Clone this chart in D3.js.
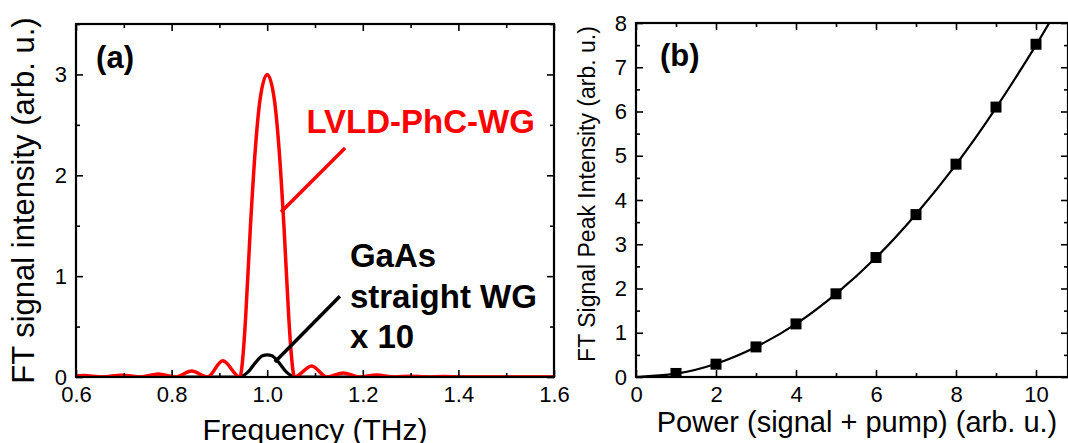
<!DOCTYPE html>
<html>
<head>
<meta charset="utf-8">
<script src="https://cdn.jsdelivr.net/npm/d3@7"></script>
<style>
    body { margin: 0; background: #fff; }
    svg { display: block; font-family: 'Liberation Sans', Arial, sans-serif; }
</style>
</head>
<body>
<div id="draw"></div>
<script>
// (a) FT spectra
let red_freq = [0.600, 0.615, 0.655, 0.696, 0.735, 0.772, 0.808, 0.842, 0.875, 0.907, 0.943,
    0.950, 0.955, 0.965, 0.975, 0.985, 1.000, 1.015, 1.025, 1.035, 1.045, 1.050, 1.057,
    1.093, 1.125, 1.159, 1.193, 1.229, 1.265, 1.300, 1.335, 1.370, 1.405, 1.600];
let red_val = [0.010, 0.014, 0.000, 0.018, 0.000, 0.030, 0.000, 0.060, 0.000, 0.160, 0.000,
    0.250, 0.600, 1.500, 2.250, 2.750, 3.000, 2.750, 2.250, 1.500, 0.600, 0.250, 0.000,
    0.110, 0.000, 0.040, 0.000, 0.020, 0.000, 0.008, 0.000, 0.004, 0.000, 0.000];
let black_freq = [0.600, 0.930, 0.945, 0.960, 0.975, 0.990, 1.000, 1.010, 1.025, 1.040, 1.055, 1.070, 1.600];
let black_val = [0.000, 0.000, 0.005, 0.050, 0.140, 0.210, 0.220, 0.210, 0.140, 0.050, 0.005, 0.000, 0.000];

// (b) FT peak intensity vs power
let power = [1, 2, 3, 4, 5, 6, 7, 8, 9, 10];
let peak = [0.08, 0.29, 0.68, 1.20, 1.88, 2.70, 3.67, 4.81, 6.10, 7.52];
let fit_power = [0, 1, 2, 3, 4, 5, 6, 7, 8, 9, 10, 10.5];
let fit_peak = [0, 0.075, 0.30, 0.68, 1.20, 1.88, 2.70, 3.68, 4.80, 6.08, 7.50, 8.27];

// ticks
let a_xticks = [0.6, 0.8, 1.0, 1.2, 1.4, 1.6];
let a_xminor = [0.7, 0.9, 1.1, 1.3, 1.5];
let a_yticks = [0, 1, 2, 3];
let a_yminor = [0.5, 1.5, 2.5, 3.5];
let b_xticks = [0, 2, 4, 6, 8, 10];
let b_xminor = [1, 3, 5, 7, 9];
let b_yticks = [0, 1, 2, 3, 4, 5, 6, 7, 8];
let b_yminor = [0.5, 1.5, 2.5, 3.5, 4.5, 5.5, 6.5, 7.5];

// parameters
let width = 1068, height = 443;
let pa = { left: 76, right: 554, top: 24, bottom: 377 };
let pb = { left: 636, right: 1068, top: 23, bottom: 377 };
let tick_font = 22;

let svg = d3.select('#draw').append('svg').attr('width', width).attr('height', height);

let xa = d3.scaleLinear().domain([0.6, 1.6]).range([pa.left, pa.right]);
let ya = d3.scaleLinear().domain([0, 3.5]).range([pa.bottom, pa.top]);
let xb = d3.scaleLinear().domain([0, 10.8]).range([pb.left, pb.right]);
let yb = d3.scaleLinear().domain([0, 8]).range([pb.bottom, pb.top]);

function frame(id, p, x, y, xt, xm, yt, ym, xfmt) {
    let g = svg.append('g');
    // clip path for the data
    svg.append('clipPath').attr('id', id)
        .append('rect')
        .attr('x', p.left).attr('y', p.top)
        .attr('width', p.right - p.left).attr('height', p.bottom - p.top);

    let axes = [
        [d3.axisBottom(x).tickValues(xt).tickFormat(xfmt), 'translate(0,' + p.bottom + ')', true],
        [d3.axisBottom(x).tickValues(xm).tickFormat(''), 'translate(0,' + p.bottom + ')', false],
        [d3.axisTop(x).tickValues(xt).tickFormat(''), 'translate(0,' + p.top + ')', true],
        [d3.axisTop(x).tickValues(xm).tickFormat(''), 'translate(0,' + p.top + ')', false],
        [d3.axisLeft(y).tickValues(yt).tickFormat(d3.format('d')), 'translate(' + p.left + ',0)', true],
        [d3.axisLeft(y).tickValues(ym).tickFormat(''), 'translate(' + p.left + ',0)', false],
        [d3.axisRight(y).tickValues(yt).tickFormat(''), 'translate(' + p.right + ',0)', true],
        [d3.axisRight(y).tickValues(ym).tickFormat(''), 'translate(' + p.right + ',0)', false]
    ];
    axes.forEach(a => {
        let ax = g.append('g').attr('transform', a[1])
            .call(a[0].tickSize(a[2] ? -7 : -4).tickPadding(9));
        ax.select('.domain').remove();
        ax.selectAll('line').attr('stroke', '#000').attr('stroke-width', 1.6);
        ax.selectAll('text').attr('font-size', tick_font).attr('fill', '#000')
            .attr('font-family', "'Liberation Sans', Arial, sans-serif");
    });
    return g;
}

// ---- panel (a)
let ga = svg.append('g');
let line_a = d3.line().curve(d3.curveMonotoneX);

ga.append('g').attr('clip-path', 'url(#clipa)')
    .append('path')
    .attr('d', line_a(black_freq.map((f, i) => [xa(f), ya(black_val[i])])))
    .attr('fill', 'none').attr('stroke', '#000').attr('stroke-width', 3.2);

ga.append('g').attr('clip-path', 'url(#clipa)')
    .append('path')
    .attr('d', line_a(red_freq.map((f, i) => [xa(f), ya(red_val[i])])))
    .attr('fill', 'none').attr('stroke', '#f00').attr('stroke-width', 3.5);

frame('clipa', pa, xa, ya, a_xticks, a_xminor, a_yticks, a_yminor, d3.format('.1f'));
svg.append('rect')
    .attr('x', pa.left).attr('y', pa.top)
    .attr('width', pa.right - pa.left).attr('height', pa.bottom - pa.top)
    .attr('fill', 'none').attr('stroke', '#000').attr('stroke-width', 2.2);

// leader lines + labels
ga.append('line')
    .attr('x1', xa(1.163)).attr('y1', ya(2.27)).attr('x2', xa(1.029)).attr('y2', ya(1.635))
    .attr('stroke', '#f00').attr('stroke-width', 3.5);
ga.append('line')
    .attr('x1', xa(1.152)).attr('y1', ya(0.80)).attr('x2', xa(1.016)).attr('y2', ya(0.149))
    .attr('stroke', '#000').attr('stroke-width', 3.5);

ga.append('text').text('LVLD-PhC-WG')
    .attr('x', xa(1.082)).attr('y', ya(2.42))
    .attr('font-size', 33).attr('font-weight', 'bold').attr('fill', '#f00');

ga.append('text')
    .attr('font-size', 33).attr('font-weight', 'bold').attr('fill', '#000')
    .selectAll('tspan')
    .data(['GaAs', 'straight WG', 'x 10'])
    .enter()
    .append('tspan')
    .attr('x', xa(1.173))
    .attr('y', (d, i) => ya(1.09) + i * 40.5)
    .text(d => d);

ga.append('text').text('(a)')
    .attr('x', xa(0.642)).attr('y', ya(3.06))
    .attr('font-size', 31).attr('font-weight', 'bold');

ga.append('text').text('Frequency (THz)')
    .attr('x', (pa.left + pa.right) / 2).attr('y', 440)
    .attr('text-anchor', 'middle').attr('font-size', 30).attr('fill', '#000');

ga.append('text').text('FT signal intensity (arb. u.)')
    .attr('transform', 'translate(34,' + (pa.top + pa.bottom) / 2 + ') rotate(-90)')
    .attr('text-anchor', 'middle').attr('font-size', 31).attr('fill', '#000');

// ---- panel (b)
let gb = svg.append('g');
let line_b = d3.line().curve(d3.curveNatural);

gb.append('g').attr('clip-path', 'url(#clipb)')
    .append('path')
    .attr('d', line_b(fit_power.map((p, i) => [xb(p), yb(fit_peak[i])])))
    .attr('fill', 'none').attr('stroke', '#000').attr('stroke-width', 2.2);

let sq = 11;
gb.append('g').attr('clip-path', 'url(#clipb)')
    .selectAll('rect')
    .data(power)
    .enter()
    .append('rect')
    .attr('x', (d) => xb(d) - sq / 2)
    .attr('y', (d, i) => yb(peak[i]) - sq / 2)
    .attr('width', sq).attr('height', sq)
    .attr('fill', '#000');

frame('clipb', pb, xb, yb, b_xticks, b_xminor, b_yticks, b_yminor, d3.format('d'));
svg.append('rect')
    .attr('x', pb.left).attr('y', pb.top)
    .attr('width', pb.right - pb.left).attr('height', pb.bottom - pb.top)
    .attr('fill', 'none').attr('stroke', '#000').attr('stroke-width', 2.2);

gb.append('text').text('(b)')
    .attr('x', xb(0.6)).attr('y', yb(7.03))
    .attr('font-size', 31).attr('font-weight', 'bold');

gb.append('text').text('Power (signal + pump) (arb. u.)')
    .attr('x', 857).attr('y', 432)
    .attr('text-anchor', 'middle').attr('font-size', 29).attr('fill', '#000');

gb.append('text').text('FT Signal Peak Intensity (arb. u.)')
    .attr('transform', 'translate(595,194) rotate(-90)')
    .attr('text-anchor', 'middle').attr('font-size', 23).attr('fill', '#000');
</script>
</body>
</html>
